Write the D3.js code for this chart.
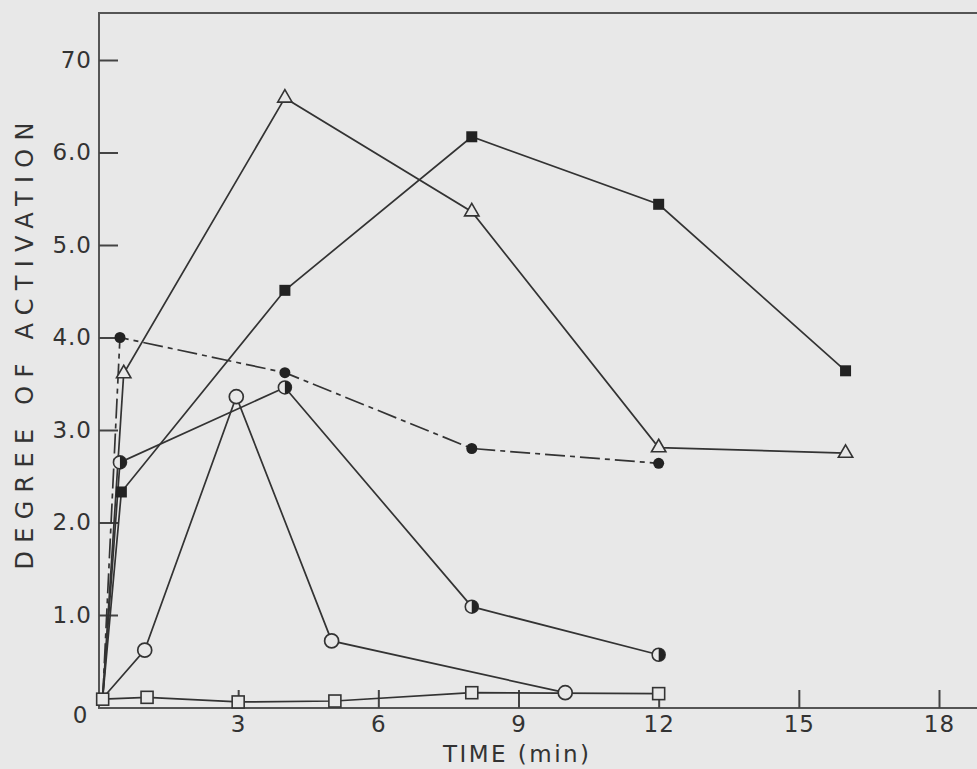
<!DOCTYPE html>
<html>
<head>
<meta charset="utf-8">
<script src="https://cdn.jsdelivr.net/npm/d3@7/dist/d3.min.js"></script>
<style>
  html, body { margin: 0; padding: 0; background: #e8e8e8; }
  svg { display: block; }
  text { font-family: "DejaVu Sans", "Liberation Sans", sans-serif; fill: #333; }
</style>
</head>
<body>
<svg id="chart" width="977" height="769"></svg>
<script>
// Time (min) and degree of activation for each preparation
const triTime    = [0.1, 0.55, 4, 8, 12, 16];
const triValue   = [0.1, 3.61, 6.59, 5.36, 2.81, 2.75];

const sqFillTime  = [0.1, 0.5, 4, 8, 12, 16];
const sqFillValue = [0.1, 2.33, 4.51, 6.17, 5.44, 3.64];

const dotTime    = [0.1, 0.47, 4, 8, 12];
const dotValue   = [0.1, 4.0, 3.62, 2.8, 2.64];

const halfTime   = [0.1, 0.47, 4, 8, 12];
const halfValue  = [0.1, 2.65, 3.46, 1.09, 0.57];

const ringTime   = [0.1, 1, 2.96, 5, 10];
const ringValue  = [0.1, 0.62, 3.36, 0.72, 0.16];

const sqOpenTime  = [0.1, 1.05, 3, 5.07, 8, 12];
const sqOpenValue = [0.09, 0.11, 0.06, 0.07, 0.16, 0.15];

const xTicks = [3, 6, 9, 12, 15, 18];
const yTicks = [1, 2, 3, 4, 5, 6, 7];
const yTickLabels = ["1.0", "2.0", "3.0", "4.0", "5.0", "6.0", "70"];

const svg = d3.select("#chart");
const bg = "#e8e8e8";
const ink = "#333";

const x = d3.scaleLinear().domain([0, 18]).range([98, 939]);
const y = d3.scaleLinear().domain([0, 7]).range([707.5, 60]);

// frame: top, left and bottom edges (right edge runs past the page)
svg.append("path")
  .attr("d", `M977,13 H99 V708 H977`)
  .attr("fill", "none").attr("stroke", "#555").attr("stroke-width", 2);

// y axis: ticks pointing inward, labels on the left
const yAxis = d3.axisLeft(y)
  .tickValues(yTicks)
  .tickFormat((d, i) => yTickLabels[i])
  .tickSizeInner(-19).tickSizeOuter(0).tickPadding(7);
const gy = svg.append("g").attr("transform", "translate(99,0)").call(yAxis);
gy.select(".domain").remove();
gy.selectAll("line").attr("stroke", "#444").attr("stroke-width", 2);
gy.selectAll("text").attr("font-size", 23).attr("letter-spacing", 1)
  .attr("fill", ink).attr("font-family", null);

// x axis: ticks pointing up, labels below
const xAxis = d3.axisBottom(x)
  .tickValues(xTicks)
  .tickFormat(d3.format("d"))
  .tickSizeInner(-18).tickSizeOuter(0).tickPadding(8);
const gx = svg.append("g").attr("transform", "translate(0,708)").call(xAxis);
gx.select(".domain").remove();
gx.selectAll("line").attr("stroke", "#444").attr("stroke-width", 2);
gx.selectAll("text").attr("font-size", 23).attr("letter-spacing", 1)
  .attr("fill", ink).attr("font-family", null);

// shared origin label
svg.append("text").attr("x", 80).attr("y", 723).attr("text-anchor", "middle")
  .attr("font-size", 23).text("0");

// axis titles
svg.append("text").attr("x", 516).attr("y", 762).attr("text-anchor", "middle")
  .attr("font-size", 23)
  .attr("textLength", 146).attr("lengthAdjust", "spacing")
  .text("TIME (min)");
svg.append("text")
  .attr("transform", "translate(33,346) rotate(-90)")
  .attr("text-anchor", "middle")
  .attr("font-size", 24)
  .attr("textLength", 447).attr("lengthAdjust", "spacing")
  .text("DEGREE OF ACTIVATION");

const line = d3.line().x(d => x(d[0])).y(d => y(d[1]));
const pts = (t, v) => t.map((d, i) => [d, v[i]]);

const series = [
  { data: pts(triTime, triValue), dash: null, marker: "tri" },
  { data: pts(sqFillTime, sqFillValue), dash: null, marker: "sqFill" },
  { data: pts(dotTime, dotValue), dash: "20,5,5,5", marker: "dot" },
  { data: pts(halfTime, halfValue), dash: null, marker: "half" },
  { data: pts(ringTime, ringValue), dash: null, marker: "ring" },
  { data: pts(sqOpenTime, sqOpenValue), dash: null, marker: "sqOpen" }
];

series.forEach(s => {
  svg.append("path")
    .attr("d", line(s.data))
    .attr("fill", "none")
    .attr("stroke", ink)
    .attr("stroke-width", 1.7)
    .attr("stroke-dasharray", s.dash);
});

series.forEach(s => {
  const g = svg.append("g");
  // the shared starting point carries only the open-square marker
  const marks = s.marker === "sqOpen" ? s.data : s.data.slice(1);
  marks.forEach(d => {
    const cx = x(d[0]), cy = y(d[1]);
    if (s.marker === "tri") {
      g.append("path")
        .attr("d", d3.symbol(d3.symbolTriangle, 90)())
        .attr("transform", `translate(${cx},${cy})`)
        .attr("fill", bg).attr("stroke", ink).attr("stroke-width", 1.6);
    } else if (s.marker === "sqFill") {
      g.append("rect").attr("x", cx - 5.5).attr("y", cy - 5.5)
        .attr("width", 11).attr("height", 11).attr("fill", "#222");
    } else if (s.marker === "sqOpen") {
      g.append("rect").attr("x", cx - 6).attr("y", cy - 6)
        .attr("width", 12).attr("height", 12)
        .attr("fill", bg).attr("stroke", ink).attr("stroke-width", 1.6);
    } else if (s.marker === "dot") {
      g.append("circle").attr("cx", cx).attr("cy", cy).attr("r", 5.5).attr("fill", "#222");
    } else if (s.marker === "ring") {
      g.append("circle").attr("cx", cx).attr("cy", cy).attr("r", 7)
        .attr("fill", bg).attr("stroke", ink).attr("stroke-width", 1.7);
    } else if (s.marker === "half") {
      const r = 6.5;
      g.append("circle").attr("cx", cx).attr("cy", cy).attr("r", r)
        .attr("fill", bg).attr("stroke", ink).attr("stroke-width", 1.6);
      g.append("path")
        .attr("d", `M${cx},${cy - r} A${r},${r} 0 0 1 ${cx},${cy + r} Z`)
        .attr("fill", "#222");
    }
  });
});
</script>
</body>
</html>
